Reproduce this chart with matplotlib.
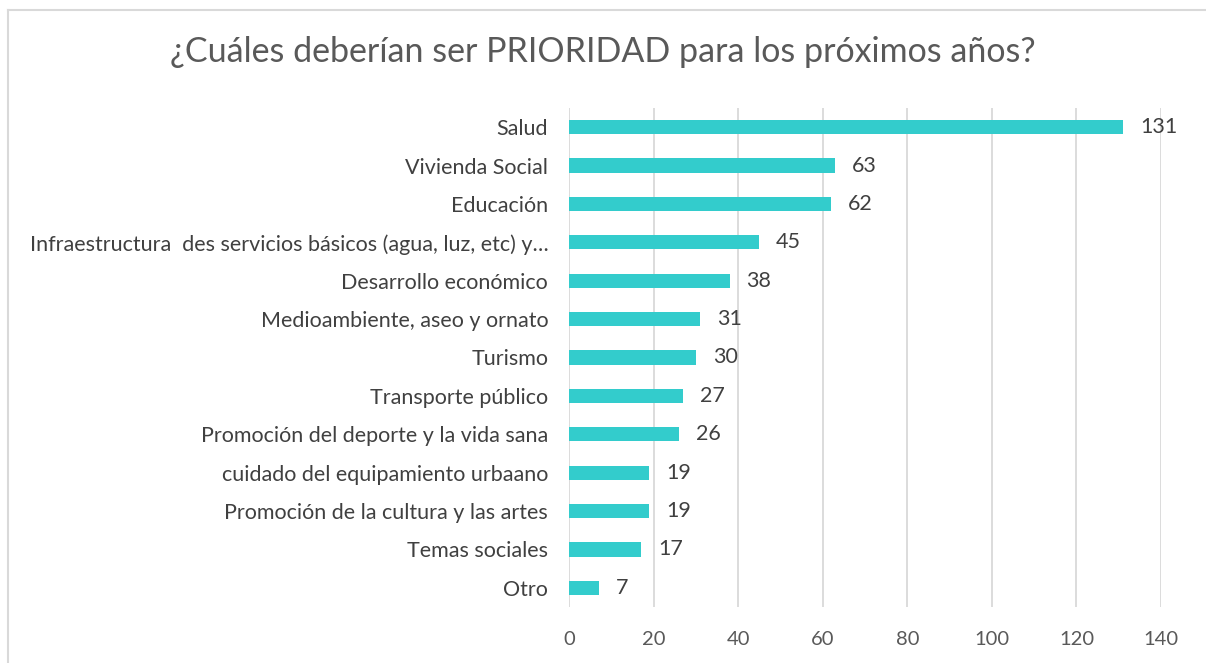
import matplotlib.pyplot as plt
from matplotlib.lines import Line2D

categorias = ['Salud', 'Vivienda Social', 'Educación',
              'Infraestructura  des servicios básicos (agua, luz, etc) y…',
              'Desarrollo económico', 'Medioambiente, aseo y ornato', 'Turismo',
              'Transporte público', 'Promoción del deporte y la vida sana',
              'cuidado del equipamiento urbaano', 'Promoción de la cultura y las artes',
              'Temas sociales', 'Otro']
valores = [131, 63, 62, 45, 38, 31, 30, 27, 26, 19, 19, 17, 7]
ticks_x = [0, 20, 40, 60, 80, 100, 120, 140]

plt.rcParams['font.family'] = ['Lato', 'DejaVu Sans']

fig = plt.figure(figsize=(12.06, 6.63), dpi=100)
ax = fig.add_axes([569 / 1206, 56 / 663, 592 / 1206, 499 / 663])

# borde del gráfico (solo arriba e izquierda visibles)
fig.add_artist(Line2D([8 / 1206, 1], [1 - 10 / 663, 1 - 10 / 663], color='#d9d9d9', lw=1.5))
fig.add_artist(Line2D([8 / 1206, 8 / 1206], [0, 1 - 10 / 663], color='#d9d9d9', lw=1.5))

y = list(range(len(categorias)))
ax.barh(y, valores, height=0.37, color='#33CCCC', zorder=3)
for yi, v in zip(y, valores):
    ax.text(v + 4, yi, str(v), va='center', ha='left', fontsize=15.5, color='#404040')

ax.set_yticks(y)
ax.set_yticklabels(categorias, fontsize=15.5, color='#404040')
ax.set_ylim(len(categorias) - 0.5, -0.5)
ax.set_xlim(0, 140)
ax.set_xticks(ticks_x)
ax.tick_params(axis='x', labelsize=14.5, labelcolor='#595959', length=0, pad=17)
ax.tick_params(axis='y', length=0, pad=15)
ax.grid(axis='x', color='#d9d9d9', lw=1.3, zorder=0)
for s in ax.spines.values():
    s.set_visible(False)

fig.text(0.5, 1 - 52 / 663, '¿Cuáles deberían ser PRIORIDAD para los próximos años?',
         ha='center', va='center', fontsize=24.5, color='#595959')

fig.savefig('out.png', dpi=100)
